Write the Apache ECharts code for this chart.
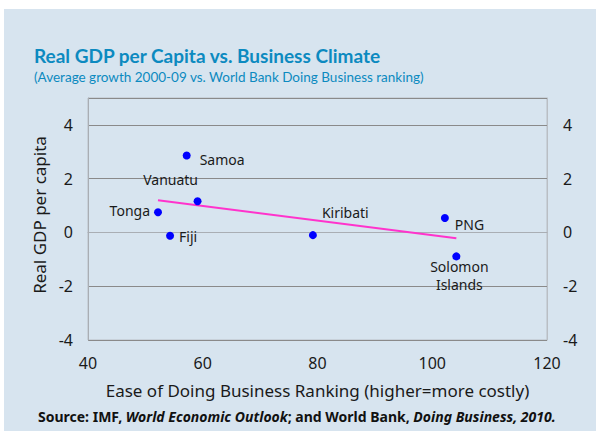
<!DOCTYPE html>
<html>
<head>
<meta charset="utf-8">
<script src="https://cdn.jsdelivr.net/npm/echarts@6/dist/echarts.min.js"></script>
<style>
  html, body { margin: 0; padding: 0; background: #fff; }
  #chart { width: 596px; height: 431px; }
</style>
</head>
<body>
<div id="chart"></div>
<script>
// countries, ranking (x) and avg real GDP per capita growth (y)
var countries = ["Samoa", "Vanuatu", "Tonga", "Fiji", "Kiribati", "PNG", "Solomon\nIslands"];
var ranking = [57.2, 59.1, 52.2, 54.3, 79.2, 102.2, 104.2];
var growth = [2.86, 1.16, 0.75, -0.12, -0.1, 0.54, -0.89];

// trend line end points
var trendX = [52.2, 104.2];
var trendY = [1.2, -0.22];

var xTicks = [40, 60, 80, 100, 120];
var yTicks = [-4, -2, 0, 2, 4];

// where each country label sits around its dot
var labelPlace = {
  "Samoa": { position: "right", offset: [4, 4] },
  "Vanuatu": { position: "top", offset: [-27, -4] },
  "Tonga": { position: "left", offset: [1, -2] },
  "Fiji": { position: "right", offset: [0, 1] },
  "Kiribati": { position: "right", offset: [0, -23] },
  "PNG": { position: "right", offset: [1, 7] },
  "Solomon\nIslands": { position: "bottom", offset: [3, -8] }
};

var chart = echarts.init(document.getElementById("chart"), null, { renderer: "svg" });

var pts = countries.map(function (c, i) {
  var lp = labelPlace[c];
  return {
    name: c,
    value: [ranking[i], growth[i]],
    label: { position: lp.position, offset: lp.offset }
  };
});

var txt = "#1a1a1a";
var font = "Noto Sans";
var blue = "#0c8ac0";

chart.setOption({
  backgroundColor: "#fff",
  textStyle: { fontFamily: font },
  graphic: [
    {
      type: "rect",
      left: 4, top: 9,
      shape: { width: 600, height: 430 },
      style: { fill: "#d7e4ef" },
      z: -10
    }
  ],
  title: [
    {
      text: "Real GDP per Capita vs. Business Climate",
      subtext: "(Average growth 2000-09 vs. World Bank Doing Business ranking)",
      left: 34, top: 46,
      itemGap: 5,
      padding: 0,
      textStyle: { fontFamily: "Lato", fontSize: 19, fontWeight: "bold", color: blue },
      subtextStyle: { fontFamily: "Lato", fontSize: 13.5, color: blue }
    },
    {
      text: "{b|Source: IMF, }{bi|World Economic Outlook}{b|; and World Bank, }{bi|Doing Business, 2010.}",
      left: 38, top: 409,
      padding: 0,
      textStyle: {
        rich: {
          b: { fontFamily: font, fontSize: 14, fontWeight: "bold", color: "#111" },
          bi: { fontFamily: font, fontSize: 14, fontWeight: "bold", fontStyle: "italic", color: "#111" }
        }
      }
    }
  ],
  grid: {
    left: 88, right: 49, top: 98, bottom: 91,
    show: true, borderColor: "#b9bec4", borderWidth: 1,
    backgroundColor: "transparent"
  },
  xAxis: {
    type: "value",
    min: 40, max: 120, interval: 20,
    name: "Ease of Doing Business Ranking (higher=more costly)",
    nameLocation: "middle",
    nameGap: 42,
    nameTextStyle: { fontFamily: font, fontSize: 17, color: txt },
    axisLine: { show: true, lineStyle: { color: "#a9aeb4" } },
    axisTick: { show: false },
    splitLine: { show: false },
    axisLabel: {
      margin: 15, fontSize: 16, color: txt, fontFamily: font,
      formatter: function (v) { return xTicks.indexOf(v) >= 0 ? v : ""; }
    }
  },
  yAxis: [
    {
      type: "value",
      min: -4, max: 5, interval: 2,
      name: "Real GDP per capita",
      nameLocation: "middle",
      nameGap: 37,
      nameTextStyle: { fontFamily: font, fontSize: 17, color: txt, padding: [0, 0, 0, 8] },
      axisLine: { show: true, lineStyle: { color: "#a9aeb4" } },
      axisTick: { show: false },
      splitLine: { show: true, lineStyle: { color: "#8a8a8a", width: 1 } },
      axisLabel: {
        margin: 15, fontSize: 16, color: txt, fontFamily: font,
        formatter: function (v) { return yTicks.indexOf(v) >= 0 ? v : ""; }
      }
    },
    {
      type: "value",
      min: -4, max: 5, interval: 2,
      position: "right",
      axisLine: { show: true, lineStyle: { color: "#b9bec4" } },
      axisTick: { show: false },
      splitLine: { show: false },
      axisLabel: {
        margin: 16, fontSize: 16, color: txt, fontFamily: font,
        formatter: function (v) { return yTicks.indexOf(v) >= 0 ? v : ""; }
      }
    }
  ],
  series: [
    {
      type: "line",
      data: trendX.map(function (x, i) { return [x, trendY[i]]; }),
      symbol: "none",
      lineStyle: { color: "#ff33cc", width: 2 },
      z: 2,
      silent: true
    },
    {
      type: "scatter",
      data: pts,
      symbol: "circle",
      symbolSize: 8,
      itemStyle: { color: "#0000ff", opacity: 1 },
      z: 3,
      label: {
        show: true,
        formatter: "{b}",
        fontFamily: font,
        fontSize: 14,
        color: txt,
        lineHeight: 18
      }
    }
  ]
});
</script>
</body>
</html>
